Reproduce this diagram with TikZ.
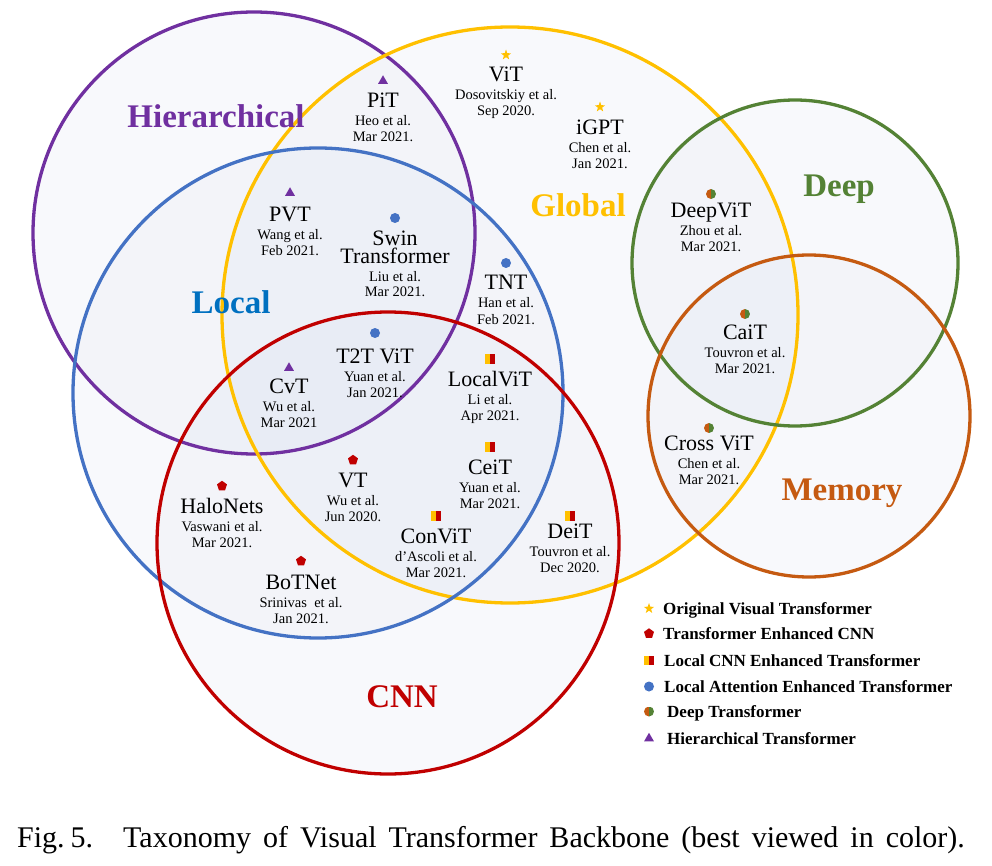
\documentclass[tikz,border=0pt]{standalone}
\usepackage{fontspec}
\setmainfont{Liberation Serif}
\usetikzlibrary{shapes.geometric}

\definecolor{hier}{HTML}{7030A0}
\definecolor{glob}{HTML}{FFC000}
\definecolor{locl}{HTML}{4472C4}
\definecolor{loclbl}{HTML}{0070C0}
\definecolor{cnn}{HTML}{C00000}
\definecolor{deep}{HTML}{548235}
\definecolor{memo}{HTML}{C55A11}
\definecolor{tint}{RGB}{190,200,225}

\tikzset{
  ring/.style={line width=3.3pt},
  ringfill/.style={fill=tint, fill opacity=0.1},
  catlbl/.style={font=\fontsize{33}{33}\selectfont\bfseries, anchor=base, inner sep=0pt},
  mname/.style={font=\fontsize{22}{22}\selectfont, anchor=base, inner sep=0pt},
  msub/.style={font=\fontsize{14.5}{14.5}\selectfont, anchor=base, inner sep=0pt},
  legtext/.style={font=\fontsize{17}{17}\selectfont\bfseries, anchor=base west, inner sep=0pt},
  mstar/.style={star, star points=5, star point ratio=2.5, fill=glob, minimum size=11pt, inner sep=0pt},
  mpent/.style={regular polygon, regular polygon sides=5, fill=cnn, minimum size=10.5pt, inner sep=0pt},
  mtri/.style={regular polygon, regular polygon sides=3, fill=hier, minimum size=11.5pt, inner sep=0pt},
  mdot/.style={circle, fill=locl, minimum size=10pt, inner sep=0pt},
  mhalf/.style={circle, minimum size=10pt, inner sep=0pt, path picture={
    \fill[memo] (path picture bounding box.south west) rectangle (path picture bounding box.north);
    \fill[deep] (path picture bounding box.south) rectangle (path picture bounding box.north east);}},
  msq/.style={rectangle, minimum width=10pt, minimum height=9.5pt, inner sep=0pt, path picture={
    \fill[glob] (path picture bounding box.south west) rectangle (path picture bounding box.north);
    \fill[cnn] (path picture bounding box.south) rectangle (path picture bounding box.north east);}},
}

\begin{document}
\begin{tikzpicture}[x=1pt,y=-1pt]
\useasboundingbox (0,0) rectangle (992,866);

% circles
\foreach \cx/\cy/\r/\c in {254/233/221/hier,510/315/288/glob,318/393/245/locl,388/543/231/cnn,795/263/163/deep,809/416/161/memo}{
\fill[ringfill] (\cx,\cy) circle[radius=\r pt];}
\foreach \cx/\cy/\r/\c in {254/233/221/hier,510/315/288/glob,318/393/245/locl,388/543/231/cnn,795/263/163/deep,809/416/161/memo}{
\draw[ring,\c] (\cx,\cy) circle[radius=\r pt];}

% group labels
\node[catlbl, hier] (lhier) at (216,128) {Hierarchical};
\node[catlbl, loclbl] (llocl) at (231,313) {Local};
\node[catlbl, glob] (lglob) at (578,217) {Global};
\node[catlbl, deep] (ldeep) at (839,197) {Deep};
\node[catlbl, memo] (lmemo) at (842,500) {Memory};
\node[catlbl, cnn] (lcnn) at (402,707) {CNN};

% models
\foreach \i/\x/\ym/\yn/\m/\nm/\au/\dt in {
  pit/383/81/108/mtri/PiT/Heo et al./Mar 2021.,
  vit/506/55/82/mstar/ViT/Dosovitskiy et al./Sep 2020.,
  igpt/600/107/135/mstar/iGPT/Chen et al./Jan 2021.,
  pvt/290/193/222/mtri/PVT/Wang et al./Feb 2021.,
  tnt/506/263/290/mdot/TNT/Han et al./Feb 2021.,
  ttt/375/333/363/mdot/T2T ViT/Yuan et al./Jan 2021.,
  cvt/289/368/393/mtri/CvT/Wu et al./Mar 2021,
  lvit/490/359/386/msq/LocalViT/Li et al./Apr 2021.,
  ceit/490/447/474/msq/CeiT/Yuan et al./Mar 2021.,
  vt/353/460/487/mpent/VT/Wu et al./Jun 2020.,
  halo/222/486/513/mpent/HaloNets/Vaswani et al./Mar 2021.,
  bot/301/561/589/mpent/BoTNet/Srinivas\ \ et al./Jan 2021.,
  cvit/436/516/543/msq/ConViT/d'Ascoli et al./Mar 2021.,
  deit/570/516/538/msq/DeiT/Touvron et al./Dec 2020.,
  dvit/711/194/218/mhalf/DeepViT/Zhou et al./Mar 2021.,
  cait/745/314/339/mhalf/CaiT/Touvron et al./Mar 2021.,
  xvit/709/428/450/mhalf/Cross ViT/Chen et al./Mar 2021.}{
\node[\m] (\i m) at (\x,\ym) {};
\node[mname] (\i) at (\x,\yn) {\nm};
\node[msub] (\i a) at (\x,\yn+18) {\au};
\node[msub] (\i d) at (\x,\yn+34) {\dt};}

\node[mdot] (swinm) at (395,218) {};
\node[mname, anchor=north, align=center, font=\fontsize{22}{18}\selectfont] (swin) at (395,230.5) {Swin\\Transformer};
\node[msub] (swina) at (395,281.5) {Liu et al.};
\node[msub] (swind) at (395,297) {Mar 2021.};

% legend
\foreach \i/\m/\tx/\yy/\t in {
  1/mstar/663/614/Original Visual Transformer,
  2/mpent/663/639/Transformer Enhanced CNN,
  3/msq/664/666/Local CNN Enhanced Transformer,
  4/mdot/664/692/Local Attention Enhanced Transformer,
  5/mhalf/667/717/Deep Transformer,
  6/mtri/667/744/Hierarchical Transformer}{
\node[\m] (key\i) at (649,\yy-5.5) {};
\node[legtext] (txt\i) at (\tx,\yy) {\t};}

\node[anchor=base west, inner sep=0pt, font=\fontsize{30}{30}\selectfont] (cap) at (17,847)
  {\spaceskip=12pt Fig.\hspace{6pt}5.\hspace{30pt}Taxonomy of Visual Transformer Backbone (best viewed in color).};

\end{tikzpicture}
\end{document}
